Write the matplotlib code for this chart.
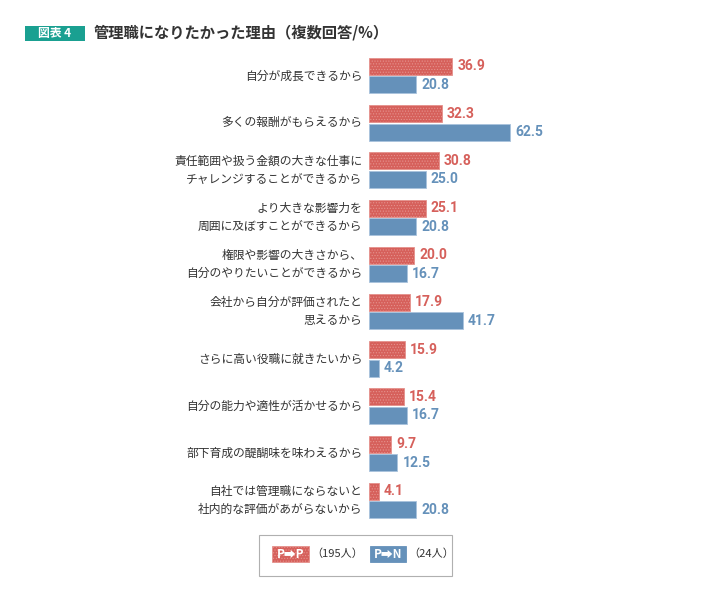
import matplotlib
matplotlib.use("Agg")
import matplotlib.pyplot as plt
from matplotlib.patches import Rectangle
import matplotlib as mpl

plt.rcParams['font.family'] = ['Noto Sans CJK JP', 'DejaVu Sans']
mpl.rcParams['hatch.linewidth'] = 0.5

categories = [
    "自分が成長できるから",
    "多くの報酬がもらえるから",
    "責任範囲や扱う金額の大きな仕事に\nチャレンジすることができるから",
    "より大きな影響力を\n周囲に及ぼすことができるから",
    "権限や影響の大きさから、\n自分のやりたいことができるから",
    "会社から自分が評価されたと\n思えるから",
    "さらに高い役職に就きたいから",
    "自分の能力や適性が活かせるから",
    "部下育成の醍醐味を味わえるから",
    "自社では管理職にならないと\n社内的な評価があがらないから",
]
pp_values = [36.9, 32.3, 30.8, 25.1, 20.0, 17.9, 15.9, 15.4, 9.7, 4.1]
pn_values = [20.8, 62.5, 25.0, 20.8, 16.7, 41.7, 4.2, 16.7, 12.5, 20.8]
series_names = ["P➡P", "P➡N"]
series_counts = ["（195人）", "（24人）"]
title = "管理職になりたかった理由（複数回答/%）"
badge = "図表 4"

RED = "#d6605b"
RED_DOT = "#e5928d"
BLUE = "#6591ba"
BLUE_EDGE = "#a9c3dc"
TXT = "#333333"

W, H = 717, 608
fig = plt.figure(figsize=(W / 100, H / 100), dpi=100)

px_per_unit = 2.25
left_px = 369.3
ax_w_px = W - left_px - 10
group_px = 47.2
top_px = 75.75 - group_px / 2
n = len(categories)
ax_h_px = group_px * n
ax = fig.add_axes([left_px / W, 1 - (top_px + ax_h_px) / H, ax_w_px / W, ax_h_px / H])
ax.set_xlim(0, ax_w_px / px_per_unit)
ax.set_ylim(n - 0.5, -0.5)
ax.axis('off')

off = 9.25 / group_px
bh = 17 / group_px
ys = list(range(n))
ax.barh([y - off for y in ys], pp_values, height=bh, color=RED, edgecolor=RED_DOT,
        hatch='......', linewidth=0.6)
ax.barh([y + off for y in ys], pn_values, height=bh, color=BLUE, edgecolor=BLUE_EDGE,
        linewidth=0.6)

dx = 5 / px_per_unit
for y, v in zip(ys, pp_values):
    ax.text(v + dx, y - off, f"{v:.1f}", color=RED, fontsize=10, fontweight='bold',
            va='center', ha='left', family=['Roboto', 'DejaVu Sans'])
for y, v in zip(ys, pn_values):
    ax.text(v + dx, y + off, f"{v:.1f}", color=BLUE, fontsize=10, fontweight='bold',
            va='center', ha='left', family=['Roboto', 'DejaVu Sans'])

for y, c in zip(ys, categories):
    ax.text(-7 / px_per_unit, y, c, ha='right', va='center', fontsize=8.5, color=TXT,
            linespacing=1.5)

# title and badge
fig.patches.append(Rectangle((25 / W, 1 - 41 / H), 60 / W, 15 / H, transform=fig.transFigure,
                             facecolor="#1aa091", edgecolor='none'))
fig.text(55 / W, 1 - 33.5 / H, badge, color='white', fontsize=8.5, ha='center', va='center',
         fontweight='bold')
fig.text(94 / W, 1 - 33 / H, title, color=TXT, fontsize=11, fontweight='bold',
         ha='left', va='center')

# legend
fig.patches.append(Rectangle((259 / W, 1 - 576 / H), 193 / W, 41 / H, transform=fig.transFigure,
                             facecolor='none', edgecolor='#b0b0b0', linewidth=0.8))
for x0, w, fc, ec, hatch, name, cnt in [
    (272, 37, RED, RED_DOT, '......', series_names[0], series_counts[0]),
    (370, 36, BLUE, BLUE, None, series_names[1], series_counts[1]),
]:
    fig.patches.append(Rectangle((x0 / W, 1 - 562 / H), w / W, 16 / H, transform=fig.transFigure,
                                 facecolor=fc, edgecolor=ec, hatch=hatch, linewidth=0.6))
    fig.text((x0 + w / 2) / W, 1 - 554 / H, name, color='white', fontsize=8.5, fontweight='bold',
             ha='center', va='center')
    fig.text((x0 + w + 2) / W, 1 - 554 / H, cnt, color=TXT, fontsize=8, ha='left', va='center')

fig.savefig("out.png", dpi=100, facecolor='white')
